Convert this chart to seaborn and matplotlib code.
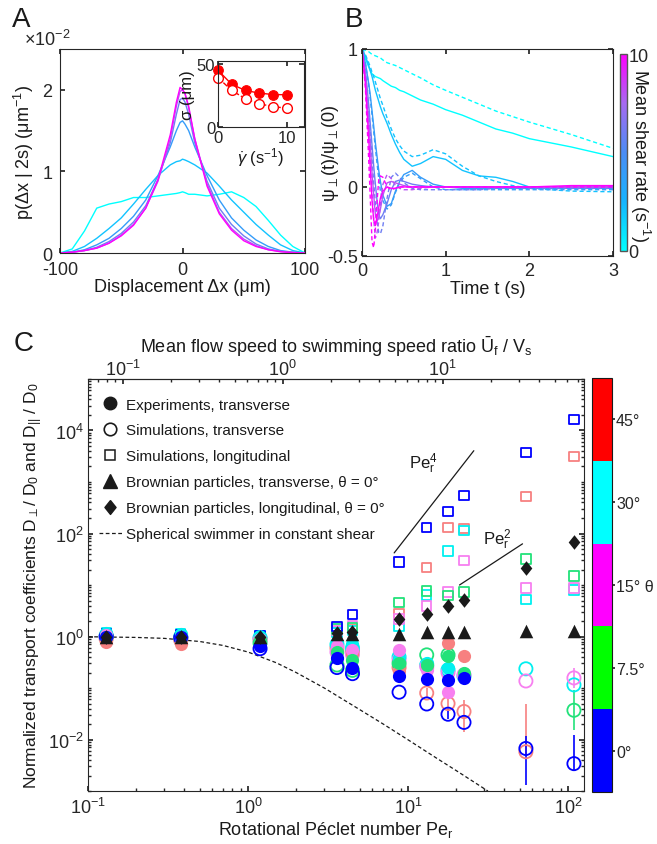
import numpy as np
import pandas as pd
import seaborn as sns
import matplotlib
matplotlib.use('Agg')
import matplotlib.pyplot as plt
from matplotlib.colors import LinearSegmentedColormap, ListedColormap, BoundaryNorm, Normalize
from matplotlib.cm import ScalarMappable
from matplotlib.lines import Line2D
from matplotlib.ticker import LogLocator, NullFormatter, FixedLocator

# ---------------- panel A: displacement pdfs (units of 1e-2 um^-1)
shear_rates = [0, 2, 4, 6, 8, 10]
dx = [-100, -90, -80, -70, -60, -50, -40, -30, -20, -10, -5, -2, 0,
      2, 5, 10, 20, 30, 40, 50, 60, 70, 80, 90, 100]
p_rate0 = [0, 0.05, 0.27, 0.55, 0.6, 0.63, 0.68, 0.68, 0.7, 0.72, 0.73, 0.74, 0.75,
           0.74, 0.72, 0.72, 0.7, 0.72, 0.75, 0.68, 0.57, 0.4, 0.22, 0.08, 0]
p_rate2 = [0, 0.02, 0.08, 0.18, 0.3, 0.43, 0.6, 0.78, 0.95, 1.08, 1.12, 1.13, 1.15,
           1.14, 1.12, 1.08, 0.98, 0.82, 0.65, 0.5, 0.35, 0.22, 0.1, 0.03, 0]
p_rate4 = [0, 0.01, 0.04, 0.1, 0.18, 0.3, 0.45, 0.65, 0.95, 1.3, 1.5, 1.6, 1.62,
           1.58, 1.5, 1.3, 0.95, 0.65, 0.43, 0.28, 0.16, 0.08, 0.03, 0.01, 0]
p_rate6 = [0, 0.01, 0.03, 0.07, 0.14, 0.24, 0.38, 0.58, 0.9, 1.35, 1.7, 1.88, 1.9,
           1.85, 1.7, 1.35, 0.88, 0.55, 0.35, 0.21, 0.11, 0.05, 0.02, 0.01, 0]
p_rate8 = [0, 0.01, 0.03, 0.06, 0.12, 0.22, 0.35, 0.55, 0.88, 1.4, 1.8, 1.98, 2.0,
           1.95, 1.78, 1.4, 0.85, 0.5, 0.3, 0.17, 0.09, 0.04, 0.02, 0.005, 0]
p_rate10 = [0, 0.01, 0.03, 0.06, 0.12, 0.21, 0.34, 0.55, 0.9, 1.45, 1.85, 2.03, 2.0,
            1.96, 1.8, 1.4, 0.82, 0.48, 0.28, 0.15, 0.08, 0.04, 0.015, 0.005, 0]

# inset: sigma vs shear rate
inset_rates = [0, 2, 4, 6, 8, 10]
sigma_exp = [44.7, 33.6, 28.8, 26.7, 25.6, 25.4]
sigma_sim = [38.9, 28.8, 22.2, 18.3, 16.1, 14.8]

# ---------------- panel B: orientation autocorrelation
t_corr = [0, 0.04, 0.08, 0.1, 0.12, 0.14, 0.16, 0.18, 0.2, 0.22, 0.25, 0.3, 0.35, 0.4,
          0.45, 0.5, 0.6, 0.7, 0.85, 1.0, 1.2, 1.4, 1.6, 1.8, 2.0, 2.5, 3.0]
psi_exp_rate0 = [1, 0.93, 0.87, 0.84, 0.82, 0.81, 0.80, 0.795, 0.79, 0.785, 0.77, 0.75, 0.73, 0.72,
                 0.70, 0.69, 0.66, 0.63, 0.60, 0.56, 0.52, 0.47, 0.42, 0.39, 0.35, 0.29, 0.22]
psi_exp_rate2 = [1, 0.95, 0.88, 0.84, 0.80, 0.75, 0.70, 0.66, 0.62, 0.58, 0.53, 0.46, 0.38, 0.31,
                 0.25, 0.20, 0.15, 0.17, 0.22, 0.20, 0.12, 0.08, 0.07, 0.04, 0.0, -0.01, -0.01]
psi_exp_rate4 = [1, 0.9, 0.75, 0.66, 0.55, 0.44, 0.32, 0.22, 0.12, 0.04, -0.06, -0.14, -0.12, -0.03,
                 0.04, 0.09, 0.12, 0.07, 0.02, 0.0, -0.01, -0.01, -0.01, -0.01, -0.01, -0.01, -0.01]
psi_exp_rate6 = [1, 0.85, 0.6, 0.45, 0.3, 0.15, 0.02, -0.1, -0.2, -0.23, -0.2, -0.12, -0.02, 0.04,
                 0.05, 0.04, 0.02, 0.01, 0.0, 0, 0, 0, 0, 0, 0, 0, 0]
psi_exp_rate8 = [1, 0.8, 0.48, 0.3, 0.1, -0.06, -0.2, -0.25, -0.22, -0.16, -0.06, 0.03, 0.04, 0.03,
                 0.02, 0.01, 0.0, 0, 0, 0, 0, 0, 0, 0, 0, 0, 0]
psi_exp_rate10 = [1, 0.75, 0.35, 0.12, -0.1, -0.24, -0.28, -0.22, -0.15, -0.08, -0.03, 0.0, -0.01, -0.01,
                  0, 0, 0, 0, 0, 0, 0, 0, 0, 0, 0, 0.01, 0.01]
psi_sim_rate0 = [1, 0.99, 0.98, 0.97, 0.96, 0.955, 0.95, 0.945, 0.94, 0.935, 0.92, 0.90, 0.89, 0.88,
                 0.865, 0.85, 0.82, 0.79, 0.74, 0.70, 0.65, 0.60, 0.55, 0.51, 0.47, 0.38, 0.28]
psi_sim_rate2 = [1, 0.96, 0.90, 0.87, 0.83, 0.80, 0.76, 0.72, 0.68, 0.64, 0.59, 0.50, 0.42, 0.35,
                 0.30, 0.26, 0.22, 0.23, 0.27, 0.24, 0.15, 0.08, 0.04, 0.01, -0.01, -0.03, -0.035]
psi_sim_rate4 = [1, 0.9, 0.74, 0.63, 0.52, 0.40, 0.28, 0.17, 0.06, -0.03, -0.1, -0.16, -0.13, -0.04,
                 0.03, 0.07, 0.1, 0.06, 0.0, -0.02, -0.02, -0.02, -0.02, -0.02, -0.02, -0.02, -0.02]
psi_sim_rate6 = [1, 0.82, 0.55, 0.38, 0.2, 0.03, -0.12, -0.25, -0.33, -0.34, -0.28, -0.08, 0.07, 0.10,
                 0.07, 0.03, -0.01, -0.02, -0.02, -0.02, -0.02, -0.02, -0.01, -0.01, -0.01, -0.01, -0.01]
psi_sim_rate8 = [1, 0.78, 0.4, 0.18, -0.05, -0.24, -0.37, -0.33, -0.25, -0.12, 0.02, 0.09, 0.06, 0.01,
                 -0.01, -0.02, -0.02, -0.01, 0, 0, 0, 0, 0, 0, 0, 0, 0]
psi_sim_rate10 = [1, 0.72, 0.2, -0.1, -0.4, -0.44, -0.3, -0.1, 0.05, 0.08, 0.07, 0.0, -0.02, -0.01,
                  0, 0, 0, 0, 0, 0, 0, 0, 0, 0, 0, 0, 0]

# ---------------- panel C: transport coefficients vs Pe_r
pe = [0.13, 0.38, 1.19, 3.6, 4.5, 8.8, 13.1, 17.8, 22.4, 54.6, 109]
nan = np.nan
theta_labels = ['0°', '7.5°', '15° θ', '30°', '45°']
exp_theta0 = [1.0, 1.0, 0.65, 0.38, 0.25, 0.17, 0.15, 0.143, 0.157, nan, nan]
exp_theta7 = [1.0, 1.0, 0.85, 0.5, 0.35, 0.3, 0.28, 0.41, 0.2, nan, nan]
exp_theta15 = [1.05, 1.0, 0.9, 0.65, 0.55, 0.55, 0.22, 0.083, 0.18, nan, nan]
exp_theta30 = [1.15, 1.1, 1.0, 0.75, 0.7, 0.39, 0.31, 0.25, 0.17, nan, nan]
exp_theta45 = [0.78, 0.7, 0.95, 0.55, 0.45, 0.21, 0.25, 0.76, 0.41, nan, nan]
simT_theta0 = [1.0, 0.95, 0.58, 0.25, 0.19, 0.083, 0.049, 0.031, 0.0215, 0.0067, 0.0034]
simT_theta7 = [1.0, 0.95, 0.75, 0.28, 0.22, 0.3, 0.44, 0.44, nan, nan, 0.037]
simT_theta15 = [1.0, 0.95, 0.85, 0.5, 0.45, 0.35, 0.26, 0.2, 0.18, 0.137, 0.157]
simT_theta30 = [1.05, 1.0, 0.95, 0.7, 0.6, 0.4, 0.28, 0.225, 0.17, 0.236, 0.115]
simT_theta45 = [0.9, 0.85, 0.9, 0.6, 0.5, 0.25, 0.08, 0.05, 0.035, 0.0058, nan]
simL_theta0 = [1.15, 1.1, 1.05, 1.57, 2.7, 28, 130, 270, 555, 3700, 16600]
simL_theta7 = [1.1, 1.05, 1.0, 1.4, 1.5, 4.6, 7.6, 6.3, 7.3, 32, 15]
simL_theta15 = [1.1, 1.05, 1.0, 1.3, 1.65, 2.2, 3.9, 7.3, 29.5, 8.7, 8.7]
simL_theta30 = [1.2, 1.15, 1.05, 1.2, 1.3, 1.6, 6.4, 46, 115, 5.3, 8.0]
simL_theta45 = [1.1, 1.05, 1.0, 1.25, 1.35, 2.8, 21.6, 130, 125, 530, 3100]
brown_trans = [1.0, 1.0, 1.0, 1.1, 1.1, 1.1, 1.2, 1.2, 1.2, 1.3, 1.3]
brown_long = [1.0, 1.0, 1.0, 1.15, 1.2, 2.15, 2.7, 3.9, 5.1, 21.5, 69]

err_pe = [54.6, 54.6, 109, 109, 109, 22.4, 17.8, 17.8, 17.8, 22.4, 13.1]
err_lo = [0.005, 0.0013, 0.0025, 0.015, 0.1, 0.014, 0.035, 0.025, 0.45, 0.3, 0.065]
err_hi = [0.05, 0.0115, 0.012, 0.09, 0.25, 0.058, 0.07, 0.04, 0.95, 0.55, 0.1]
err_theta = [4, 0, 0, 1, 2, 4, 4, 0, 4, 4, 4]

theory_pe = [0.1, 0.2, 0.3, 0.5, 0.7, 1, 1.5, 2, 3, 5, 7, 10, 15, 20, 31.6]
theory_d = [0.99, 0.96, 0.92, 0.8, 0.67, 0.5, 0.31, 0.2, 0.1, 0.038, 0.02, 0.0099, 0.0044, 0.0025, 0.001]
slope4_pe = [8.2, 25.8]
slope4_d = [42, 4050]
slope2_pe = [21, 52]
slope2_d = [10, 63]
flow_ratio = 1.65  # Pe_r per unit of U_f / V_s

# ---------------- style
sns.set_theme(style='ticks')
plt.rcParams['font.family'] = ['Liberation Sans', 'DejaVu Sans']
plt.rcParams.update({
    'mathtext.fontset': 'custom',
    'mathtext.rm': 'Liberation Sans',
    'mathtext.it': 'Liberation Sans:italic',
    'mathtext.bf': 'Liberation Sans:bold',
    'axes.unicode_minus': False,
    'font.size': 13,
    'axes.labelsize': 13,
    'xtick.labelsize': 13,
    'ytick.labelsize': 13,
    'xtick.direction': 'in',
    'ytick.direction': 'in',
    'axes.linewidth': 0.8,
    'axes.edgecolor': '#262626',
    'xtick.color': '#262626',
    'ytick.color': '#262626',
    'text.color': '#1a1a1a',
    'axes.labelcolor': '#1a1a1a',
    'xtick.major.size': 3.5,
    'ytick.major.size': 3.5,
    'xtick.minor.size': 2,
    'ytick.minor.size': 2,
    'xtick.major.pad': 4,
    'ytick.major.pad': 3,
})

shear_cmap = LinearSegmentedColormap.from_list(
    'shear', ['#00ffff', '#16b4ff', '#4a8cf5', '#a66af0', '#ff00ff'])
shear_palette = {r: shear_cmap(r / 10) for r in shear_rates}
theta_colors = ['#0000ff', '#22e27a', '#f77ff0', '#00f0f0', '#f78080']
cbar_colors = ['#0000ff', '#00ff00', '#ff00ff', '#00ffff', '#ff0000']

fig = plt.figure(figsize=(6.57, 8.45), dpi=100)

# ================= A
axA = fig.add_axes([0.0913, 0.6994, 0.373, 0.2414])
p_curves = [p_rate0, p_rate2, p_rate4, p_rate6, p_rate8, p_rate10]
dfA = pd.DataFrame({
    'dx': np.tile(dx, len(shear_rates)),
    'p': np.concatenate(p_curves) * 1e-2,
    'rate': np.repeat(shear_rates, len(dx)),
})
sns.lineplot(data=dfA, x='dx', y='p', hue='rate', palette=shear_palette,
             estimator=None, legend=False, lw=1.0, ax=axA)
axA.set_xlim(-100, 100)
axA.set_ylim(0, 0.025)
axA.set_xticks([-100, 0, 100])
axA.set_yticks([0, 0.01, 0.02])
axA.ticklabel_format(axis='y', style='sci', scilimits=(-2, -2), useMathText=True)
offA = axA.yaxis.get_offset_text()
offA.set_fontsize(13)
offA.set_horizontalalignment('center')
offA.set_x(-0.05)
axA.tick_params(top=True, right=True)
axA.tick_params(axis='x', pad=6)
axA.tick_params(axis='y', pad=5)
axA.set_xlabel('Displacement Δx (μm)', labelpad=0)
axA.set_ylabel('p(Δx | 2s) (μm$^{-1}$)', labelpad=4)

axI = fig.add_axes([0.3318, 0.8485, 0.131, 0.0781])
sns.lineplot(x=inset_rates, y=sigma_exp, color='red', marker='o', markersize=7,
             markeredgecolor='red', lw=1.0, ax=axI)
sns.lineplot(x=inset_rates, y=sigma_sim, color='red', marker='o', markersize=7,
             markerfacecolor='white', markeredgecolor='red', markeredgewidth=1.0,
             linestyle='--', lw=1.0, ax=axI)
axI.set_xlim(0, 12.5)
axI.set_ylim(0, 52)
axI.set_xticks([0, 10])
axI.set_yticks([0, 50])
axI.tick_params(labelsize=12, pad=2, top=True, right=True)
for m in axI.lines:
    m.set_clip_on(False)
axI.set_xlabel(r'$\dot{\gamma}$ (s$^{-1}$)', fontsize=12, labelpad=0)
axI.set_ylabel('σ (μm)', fontsize=12, labelpad=1)

# ================= B
axB = fig.add_axes([0.551, 0.6959, 0.382, 0.245])
psi_exp = [psi_exp_rate0, psi_exp_rate2, psi_exp_rate4, psi_exp_rate6, psi_exp_rate8, psi_exp_rate10]
psi_sim = [psi_sim_rate0, psi_sim_rate2, psi_sim_rate4, psi_sim_rate6, psi_sim_rate8, psi_sim_rate10]
n_t = len(t_corr)
dfB = pd.DataFrame({
    't': np.tile(t_corr, 2 * len(shear_rates)),
    'psi': np.concatenate(psi_exp + psi_sim),
    'rate': np.tile(np.repeat(shear_rates, n_t), 2),
    'kind': ['exp'] * (n_t * len(shear_rates)) + ['sim'] * (n_t * len(shear_rates)),
})
sns.lineplot(data=dfB, x='t', y='psi', hue='rate', style='kind', palette=shear_palette,
             dashes={'exp': '', 'sim': (3, 2)}, estimator=None, legend=False, lw=1.0, ax=axB)
axB.set_xlim(0, 3)
axB.set_ylim(-0.5, 1)
axB.set_xticks([0, 1, 2, 3])
axB.set_yticks([-0.5, 0, 1])
axB.set_yticklabels(['-0.5', '0', '1'])
axB.tick_params(top=True, right=True)
axB.set_xlabel('Time t (s)', labelpad=1)
axB.set_ylabel(r'ψ$_{\perp}$(t)/ψ$_{\perp}$(0)')
axB.yaxis.set_label_coords(-0.085, 0.5)

caxB = fig.add_axes([0.9437, 0.7018, 0.0107, 0.2331])
cbB = fig.colorbar(ScalarMappable(norm=Normalize(0, 10), cmap=shear_cmap), cax=caxB, ticks=[0, 10])
cbB.outline.set_edgecolor('#555555')
cbB.outline.set_linewidth(1.0)
caxB.tick_params(direction='in', length=0, pad=1, labelsize=13)
caxB.text(2.9, 0.49, 'Mean shear rate (s$^{-1}$)', transform=caxB.transAxes,
          rotation=270, ha='center', va='center', fontsize=13)

# ================= C
axC = fig.add_axes([0.1339, 0.0627, 0.755, 0.4876])
axC.set_xscale('log')
axC.set_yscale('log')

sns.lineplot(x=theory_pe, y=theory_d, color='k', lw=0.9, linestyle=(0, (3, 2)), ax=axC)
sns.lineplot(x=slope4_pe, y=slope4_d, color='k', lw=0.9, ax=axC)
sns.lineplot(x=slope2_pe, y=slope2_d, color='k', lw=0.9, ax=axC)

exp_sets = [exp_theta0, exp_theta7, exp_theta15, exp_theta30, exp_theta45]
simT_sets = [simT_theta0, simT_theta7, simT_theta15, simT_theta30, simT_theta45]
simL_sets = [simL_theta0, simL_theta7, simL_theta15, simL_theta30, simL_theta45]

for xp, lo, hi, k in zip(err_pe, err_lo, err_hi, err_theta):
    axC.vlines(xp, lo, hi, color=theta_colors[k], lw=1.2, zorder=2)

order = [4, 3, 2, 1, 0]
for k in order:
    sns.scatterplot(x=pe, y=simL_sets[k], marker='s', s=45, facecolors='none',
                    edgecolor=theta_colors[k], linewidth=1.3, ax=axC, zorder=3)
for k in order:
    sns.scatterplot(x=pe, y=simT_sets[k], marker='o', s=90, facecolors='none',
                    edgecolor=theta_colors[k], linewidth=1.3, ax=axC, zorder=3)
for k in order:
    sns.scatterplot(x=pe, y=exp_sets[k], marker='o', s=90, color=theta_colors[k],
                    edgecolor=theta_colors[k], linewidth=0, ax=axC, zorder=4)

diamond = [(0, 1), (0.8, 0), (0, -1), (-0.8, 0), (0, 1)]
sns.scatterplot(x=pe, y=brown_trans, marker='^', s=95, color='k', edgecolor='k',
                linewidth=0, ax=axC, zorder=5)
sns.scatterplot(x=pe, y=brown_long, marker=diamond, s=110, color='k', edgecolor='k',
                linewidth=0, ax=axC, zorder=5)

axC.set_xlim(0.1, 126)
axC.set_ylim(1e-3, 1e5)
axC.yaxis.set_major_locator(FixedLocator([1e-2, 1, 1e2, 1e4]))
axC.yaxis.set_minor_locator(LogLocator(base=10, subs=np.arange(1, 10), numticks=30))
axC.yaxis.set_minor_formatter(NullFormatter())
axC.xaxis.set_minor_locator(LogLocator(base=10, subs=np.arange(2, 10), numticks=30))
axC.xaxis.set_minor_formatter(NullFormatter())
axC.tick_params(which='both', right=True)
axC.set_xlabel('Rotational Péclet number Pe$_\\mathrm{r}$', labelpad=2)
axC.set_ylabel('Normalized transport coefficients D$_{\\perp}$/ D$_0$ and D$_{||}$ / D$_0$',
               fontsize=12.5, labelpad=2)

secC = axC.secondary_xaxis('top', functions=(lambda p: p / flow_ratio, lambda u: u * flow_ratio))
secC.xaxis.set_major_locator(FixedLocator([0.1, 1, 10]))
secC.xaxis.set_minor_locator(LogLocator(base=10, subs=np.arange(2, 10), numticks=30))
secC.xaxis.set_minor_formatter(NullFormatter())
secC.tick_params(which='both', direction='in', pad=0)
secC.set_xlabel('Mean flow speed to swimming speed ratio $\\bar{\\mathrm{U}}_\\mathrm{f}$ / V$_\\mathrm{s}$',
                labelpad=5)

axC.text(12.4, 2350, 'Pe$_\\mathrm{r}^4$', ha='center', va='center', fontsize=12)
axC.text(36, 80, 'Pe$_\\mathrm{r}^2$', ha='center', va='center', fontsize=12)

handles = [
    Line2D([], [], ls='none', marker='o', color='k', ms=9),
    Line2D([], [], ls='none', marker='o', mfc='none', mec='k', mew=1.2, ms=9),
    Line2D([], [], ls='none', marker='s', mfc='none', mec='k', mew=1.1, ms=7),
    Line2D([], [], ls='none', marker='^', color='k', ms=10),
    Line2D([], [], ls='none', marker=diamond, color='k', ms=10),
    Line2D([], [], ls=(0, (3, 2)), color='k', lw=0.9),
]
labels = ['Experiments, transverse', 'Simulations, transverse', 'Simulations, longitudinal',
          'Brownian particles, transverse, θ = 0°', 'Brownian particles, longitudinal, θ = 0°',
          'Spherical swimmer in constant shear']
axC.legend(handles, labels, loc='upper left', bbox_to_anchor=(0.022, 0.955), frameon=False,
           fontsize=11, borderpad=0, borderaxespad=0, handlelength=1.5, handletextpad=0.25,
           labelspacing=0.78)

caxC = fig.add_axes([0.901, 0.0615, 0.0304, 0.4899])
cbC = fig.colorbar(ScalarMappable(norm=BoundaryNorm([0, 1, 2, 3, 4, 5], 5),
                                  cmap=ListedColormap(cbar_colors)),
                   cax=caxC, ticks=[0.5, 1.5, 2.5, 3.5, 4.5])
cbC.set_ticklabels(theta_labels)
cbC.outline.set_edgecolor('k')
cbC.outline.set_linewidth(0.8)
caxC.tick_params(direction='out', length=2.5, pad=0.5, labelsize=11.5)
caxC.minorticks_off()

# panel letters
fig.text(0.018, 0.992, 'A', fontsize=20, va='top')
fig.text(0.525, 0.992, 'B', fontsize=20, va='top')
fig.text(0.020, 0.608, 'C', fontsize=20, va='top')

fig.savefig('out.png', dpi=100)
